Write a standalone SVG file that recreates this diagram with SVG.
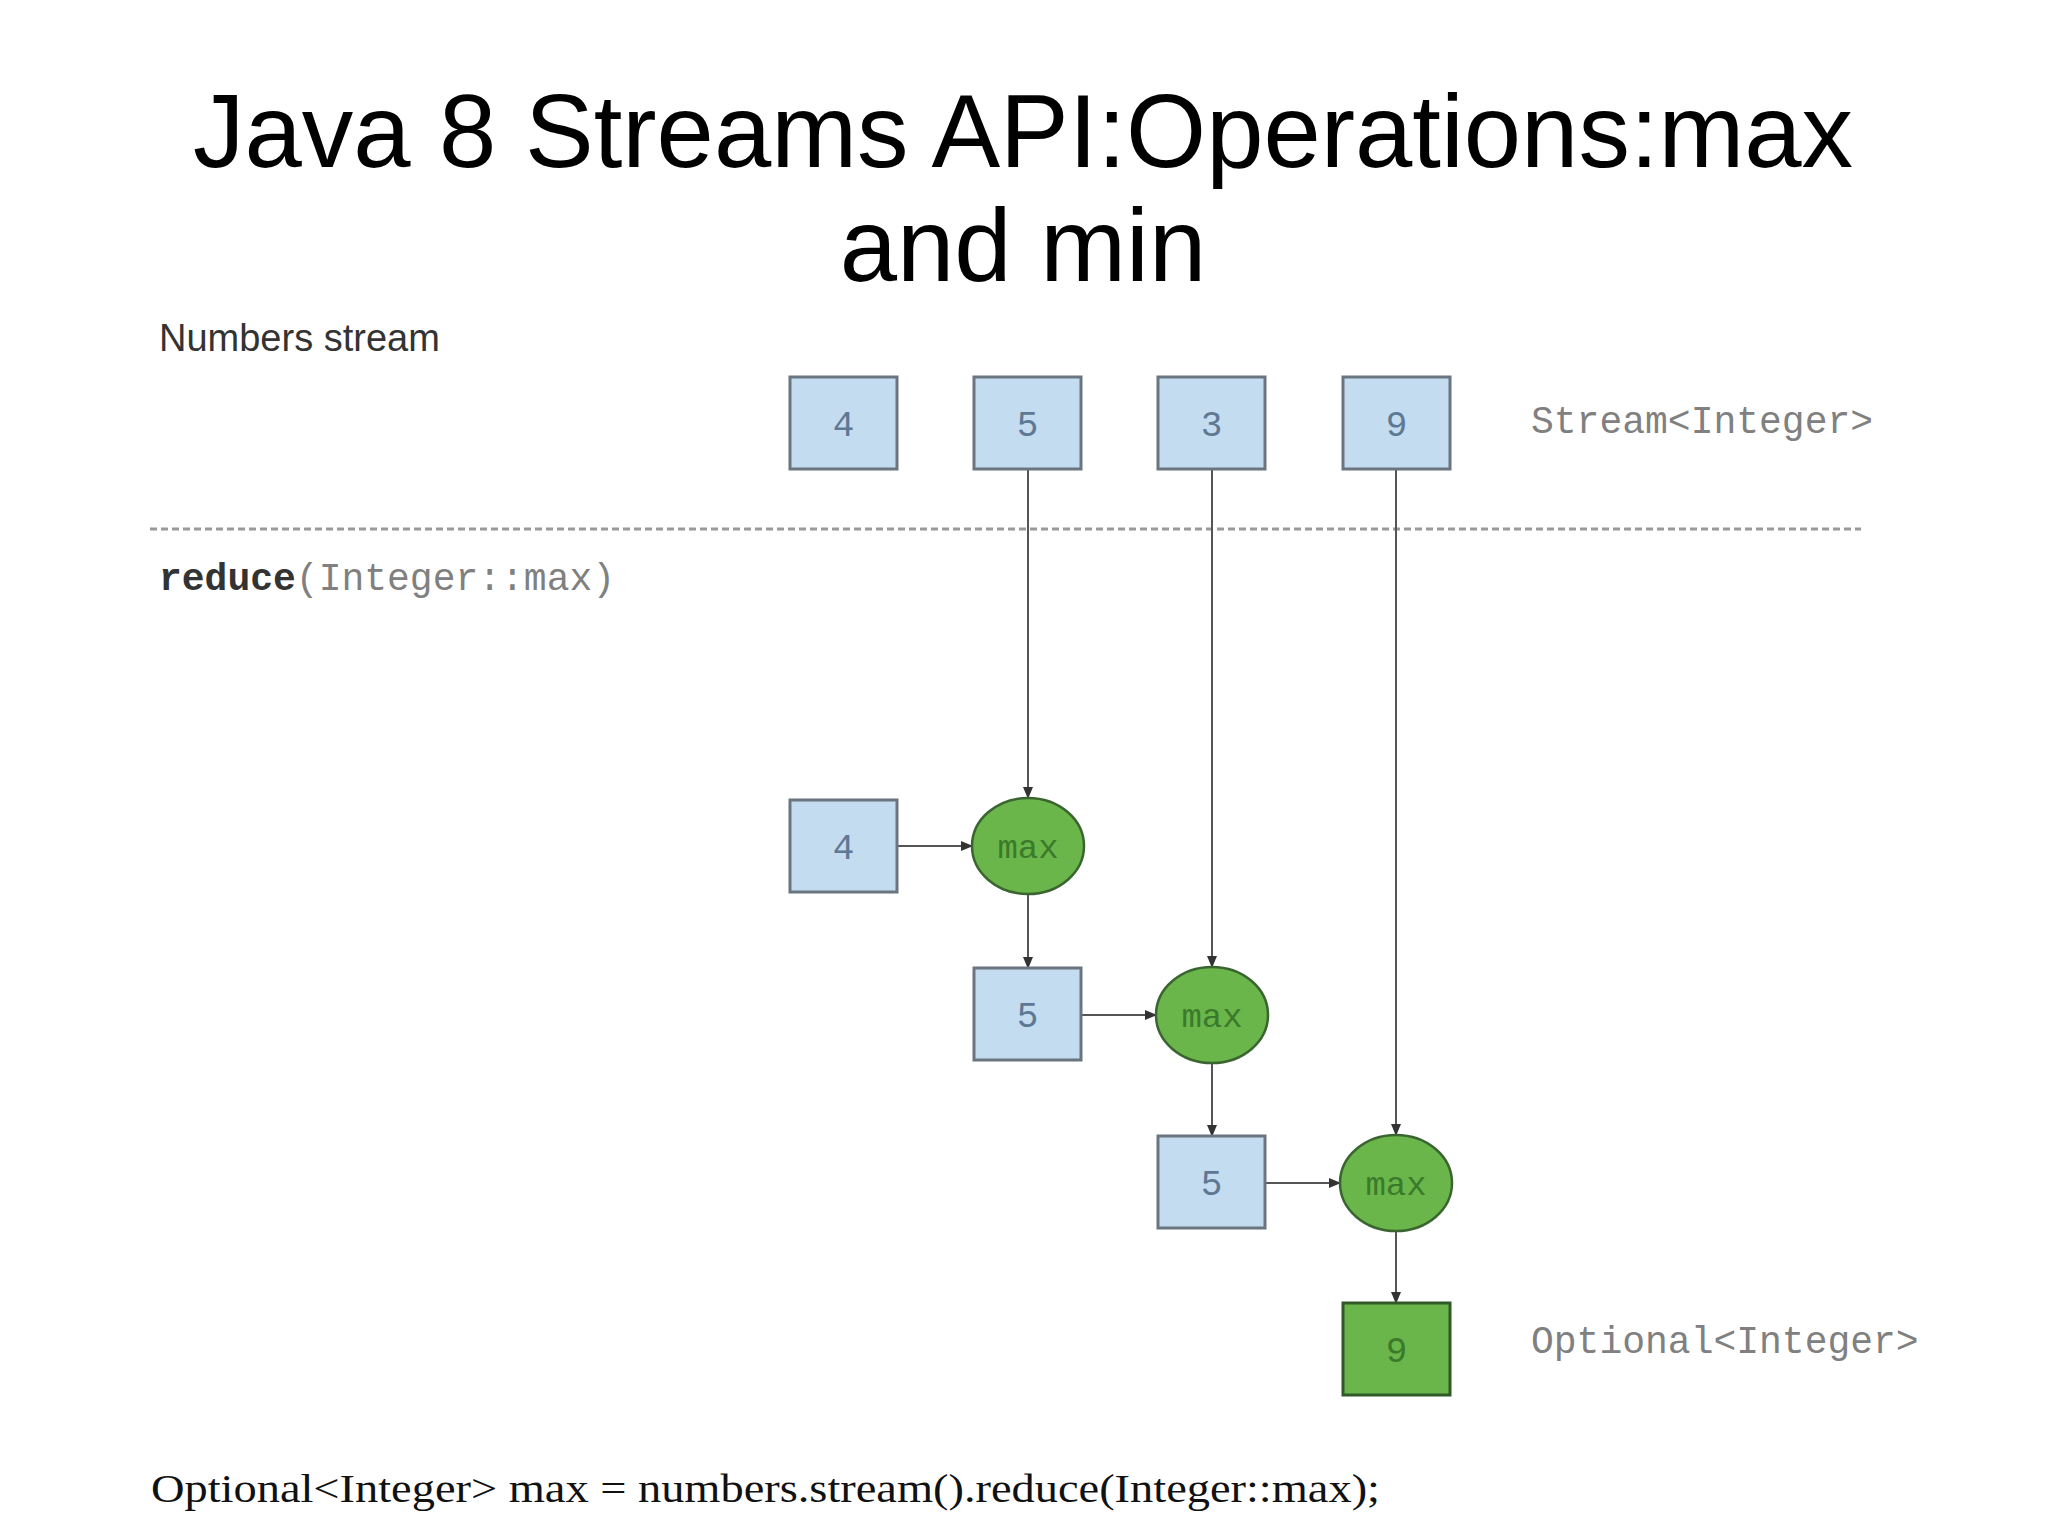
<svg xmlns="http://www.w3.org/2000/svg" width="2048" height="1535" viewBox="0 0 2048 1535">
<defs>
<marker id="ah" markerWidth="12" markerHeight="10" refX="11" refY="5" orient="auto" markerUnits="userSpaceOnUse">
<path d="M0,0 L12,5 L0,10 Z" fill="#333"/>
</marker>
<style>
.title{font-family:"Liberation Sans",Arial,sans-serif;font-size:103px;fill:#000;text-anchor:middle}
.box{fill:#c4dcf0;stroke:#6b7580;stroke-width:3}
.gbox{fill:#6ab64b;stroke:#2f5a28;stroke-width:3}
.ell{fill:#6ab64b;stroke:#3a6530;stroke-width:2.5}
.num{font-family:"Liberation Mono","DejaVu Sans Mono",monospace;font-size:36px;fill:#5f7893;text-anchor:middle}
.gnum{font-family:"Liberation Mono","DejaVu Sans Mono",monospace;font-size:36px;fill:#3a7a2a;text-anchor:middle}
.op{font-family:"Liberation Mono","DejaVu Sans Mono",monospace;font-size:34px;fill:#3a7a2a;text-anchor:middle}
.mono{font-family:"Liberation Mono","DejaVu Sans Mono",monospace;font-size:38px;fill:#808080}
.conn{stroke:#555;stroke-width:2;fill:none;marker-end:url(#ah)}
</style>
</defs>
<rect width="2048" height="1535" fill="#fff"/>
<g id="title">
<text class="title" x="1023" y="167">Java 8 Streams API:Operations:max</text>
<text class="title" x="1023" y="281">and min</text>
</g>
<g id="labels">
<text x="159" y="351" font-family="Liberation Sans,Arial,sans-serif" font-size="38" fill="#333">Numbers stream</text>
<text class="mono" x="1531" y="433">Stream&lt;Integer&gt;</text>
<text class="mono" x="159" y="590"><tspan font-weight="bold" fill="#333">reduce</tspan>(Integer::max)</text>
<text class="mono" x="1531" y="1353">Optional&lt;Integer&gt;</text>
<text x="151" y="1502" font-family="Liberation Serif,'Times New Roman',serif" font-size="40" fill="#111" textLength="1229" lengthAdjust="spacingAndGlyphs">Optional&lt;Integer&gt; max = numbers.stream().reduce(Integer::max);</text>
</g>
<line id="divider" x1="150" y1="529" x2="1861" y2="529" stroke="#999" stroke-width="3" stroke-dasharray="7,4"/>
<g id="connectors">
<line class="conn" x1="1028" y1="469" x2="1028" y2="798"/>
<line class="conn" x1="1212" y1="469" x2="1212" y2="967"/>
<line class="conn" x1="1396" y1="469" x2="1396" y2="1135"/>
<line class="conn" x1="897" y1="846" x2="972" y2="846"/>
<line class="conn" x1="1081" y1="1015" x2="1156" y2="1015"/>
<line class="conn" x1="1266" y1="1183" x2="1340" y2="1183"/>
<line class="conn" x1="1028" y1="894" x2="1028" y2="968"/>
<line class="conn" x1="1212" y1="1063" x2="1212" y2="1136"/>
<line class="conn" x1="1396" y1="1231" x2="1396" y2="1303"/>
</g>
<g id="s4"><rect class="box" x="790" y="377" width="107" height="92"/><text class="num" x="843.5" y="436">4</text></g>
<g id="s5"><rect class="box" x="974" y="377" width="107" height="92"/><text class="num" x="1027.5" y="436">5</text></g>
<g id="s3"><rect class="box" x="1158" y="377" width="107" height="92"/><text class="num" x="1211.5" y="436">3</text></g>
<g id="s9"><rect class="box" x="1343" y="377" width="107" height="92"/><text class="num" x="1396.5" y="436">9</text></g>
<g id="init4"><rect class="box" x="790" y="800" width="107" height="92"/><text class="num" x="843.5" y="859">4</text></g>
<g id="max1"><ellipse class="ell" cx="1028" cy="846" rx="56" ry="48"/><text class="op" x="1028" y="858">max</text></g>
<g id="acc5a"><rect class="box" x="974" y="968" width="107" height="92"/><text class="num" x="1027.5" y="1027">5</text></g>
<g id="max2"><ellipse class="ell" cx="1212" cy="1015" rx="56" ry="48"/><text class="op" x="1212" y="1027">max</text></g>
<g id="acc5b"><rect class="box" x="1158" y="1136" width="107" height="92"/><text class="num" x="1211.5" y="1195">5</text></g>
<g id="max3"><ellipse class="ell" cx="1396" cy="1183" rx="56" ry="48"/><text class="op" x="1396" y="1195">max</text></g>
<g id="result"><rect class="gbox" x="1343" y="1303" width="107" height="92"/><text class="gnum" x="1396.5" y="1362">9</text></g>
</svg>
